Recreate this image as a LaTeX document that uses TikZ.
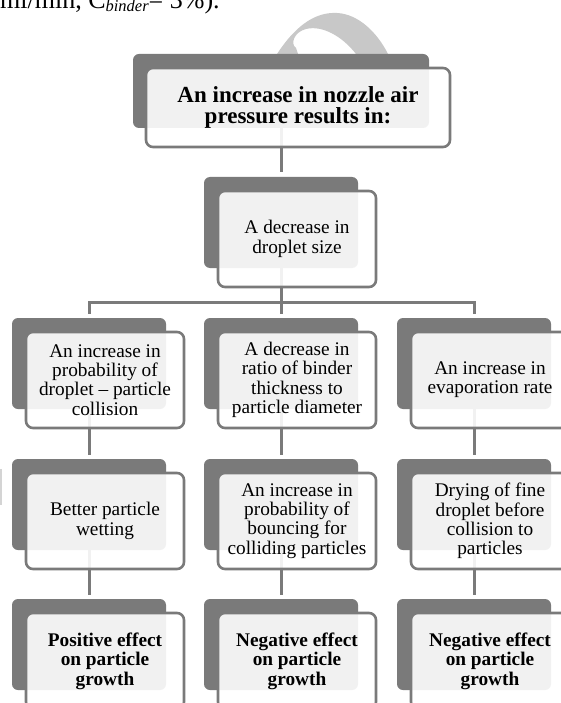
\documentclass[tikz,border=0pt]{standalone}
\usepackage{fontspec}
\setmainfont{Liberation Serif}
\usetikzlibrary{backgrounds}
\definecolor{boxgrey}{RGB}{122,122,122}
\definecolor{arcgrey}{RGB}{200,200,200}
\definecolor{edgegrey}{RGB}{212,212,212}
\newcommand{\txtreg}{\fontsize{19.3}{19.3}\selectfont}
\newcommand{\txtbold}{\fontsize{19.3}{19.6}\selectfont\bfseries}
\newcommand{\txttop}{\fontsize{23}{21.7}\selectfont\bfseries}
\begin{document}
\begin{tikzpicture}[x=1pt,y=-1pt,
  darkbox/.style={fill=boxgrey, rounded corners=6pt, minimum width=154pt,
    minimum height=91pt, anchor=north west, inner sep=0pt, outer sep=0pt},
  frontbox/.style={fill=white, fill opacity=0.9, text opacity=1, draw=boxgrey,
    line width=2.6pt, rounded corners=7pt, minimum width=158pt, minimum height=96pt,
    anchor=north west, inner sep=1pt, outer sep=0pt, align=center, font=\txtreg},
  boldbox/.style={frontbox, font=\txtbold},
  link/.style={draw=boxgrey, line width=3pt},
]
\useasboundingbox (0,0) rectangle (560,703);

% caption fragment at the top
\node[anchor=base west, inner sep=0pt, font=\fontsize{26}{26}\selectfont] (cap) at (0,9)
  {ml/min, C\raisebox{-2.5pt}{\fontsize{16.5}{16.5}\selectfont\itshape binder}= 3\%).};

% top
\node[darkbox, minimum width=296pt, minimum height=74pt] (d0) at (133,54) {};
\node[frontbox, minimum width=304pt, minimum height=79pt, font=\txttop] (f0) at (146,68)
  {An increase in nozzle air\\pressure results in:};
% level 2
\node[darkbox] (d1) at (204,177) {};
\node[frontbox] (f1) at (218,191) {A decrease in\\droplet size};
% level 3
\node[darkbox] (d2a) at (12,318) {};
\node[frontbox] (f2a) at (26,332) {An increase in\\probability of\\droplet -- particle\\collision};
\node[darkbox] (d2b) at (204,318) {};
\node[frontbox] (f2b) at (218,332) {A decrease in\\ratio of binder\\thickness to\\particle diameter};
\node[darkbox] (d2c) at (397,318) {};
\node[frontbox] (f2c) at (411,332) {An increase in\\evaporation rate};
% level 4
\node[darkbox] (d3a) at (12,459) {};
\node[frontbox] (f3a) at (26,473) {Better particle\\wetting};
\node[darkbox] (d3b) at (204,459) {};
\node[frontbox] (f3b) at (218,473) {An increase in\\probability of\\bouncing for\\colliding particles};
\node[darkbox] (d3c) at (397,459) {};
\node[frontbox] (f3c) at (411,473) {Drying of fine\\droplet before\\collision to\\particles};
% level 5
\node[darkbox] (d4a) at (12,599) {};
\node[boldbox] (f4a) at (26,613) {Positive effect\\on particle\\growth};
\node[darkbox] (d4b) at (204,599) {};
\node[boldbox] (f4b) at (218,613) {Negative effect\\on particle\\growth};
\node[darkbox] (d4c) at (397,599) {};
\node[boldbox] (f4c) at (411,613) {Negative effect\\on particle\\growth};

\begin{scope}[on background layer]
  \fill[white] (0,0) rectangle (560,703);
  % grey curved fragment behind the top box
  \fill[arcgrey] (277,54) .. controls (298,22) and (318,12) .. (337,13)
    .. controls (358,14) and (377,32) .. (388,54) -- (356,54)
    .. controls (342,36) and (322,25) .. (306,29)
    .. controls (294,32) and (290,44) .. (296,48) -- (298,54) -- cycle;
  % fragment at the left edge
  \fill[edgegrey] (0,469) rectangle (2,505);
  % connectors
  \draw[link] (d0.south) -- ([yshift=4.5pt]d1.north);
  \draw[link] (d1.south) -- ([yshift=4.5pt]d2b.north);
  \draw[link] ([yshift=4.5pt]d2a.north) -- ([yshift=16pt]d2a.north)
    -- ([yshift=16pt]d2c.north) -- ([yshift=4.5pt]d2c.north);
  \draw[link] (d2a.south) -- ([yshift=4.5pt]d3a.north);
  \draw[link] (d2b.south) -- ([yshift=4.5pt]d3b.north);
  \draw[link] (d2c.south) -- ([yshift=4.5pt]d3c.north);
  \draw[link] (d3a.south) -- ([yshift=4.5pt]d4a.north);
  \draw[link] (d3b.south) -- ([yshift=4.5pt]d4b.north);
  \draw[link] (d3c.south) -- ([yshift=4.5pt]d4c.north);
\end{scope}
\end{tikzpicture}
\end{document}
